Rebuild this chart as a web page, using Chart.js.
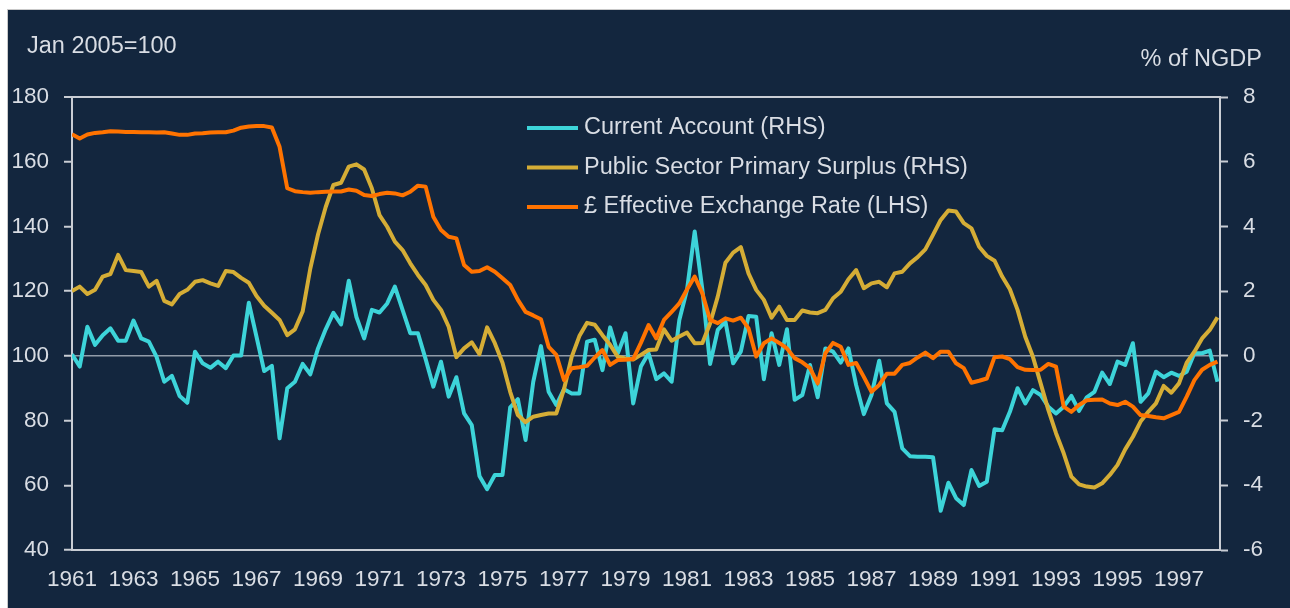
<!DOCTYPE html>
<html>
<head>
<meta charset="utf-8">
<script src="https://cdn.jsdelivr.net/npm/chart.js@4/dist/chart.umd.min.js"></script>
<style>
  html, body { margin: 0; padding: 0; background: #ffffff; }
  #wrap { position: absolute; left: 0; top: 0; width: 1290px; height: 608px; }
</style>
</head>
<body>
<div id="wrap"><canvas id="c" width="1290" height="608"></canvas></div>
<script>
// ---- data (quarterly, first point = 1961 Q1) ----
const firstYear = 1961;
const yearTicks = [1961, 1963, 1965, 1967, 1969, 1971, 1973, 1975, 1977, 1979, 1981, 1983, 1985, 1987, 1989, 1991, 1993, 1995, 1997];
const leftTicks = [40, 60, 80, 100, 120, 140, 160, 180];
const rightTicks = [-6, -4, -2, 0, 2, 4, 6, 8];

const seriesNames = ["Current Account (RHS)", "Public Sector Primary Surplus (RHS)", "\u00A3 Effective Exchange Rate (LHS)"];

const currentAccount = [
  0.05, -0.33, 0.90, 0.34, 0.64, 0.85, 0.47, 0.47, 1.09, 0.54,
  0.44, -0.03, -0.80, -0.62, -1.24, -1.45, 0.13, -0.23, -0.37, -0.18,
  -0.38, 0.01, 0.01, 1.64, 0.59, -0.47, -0.31, -2.55, -1.00, -0.80,
  -0.25, -0.57, 0.23, 0.82, 1.33, 0.97, 2.32, 1.20, 0.54, 1.42,
  1.34, 1.62, 2.14, 1.42, 0.70, 0.70, -0.10, -0.95, -0.18, -1.26,
  -0.66, -1.78, -2.14, -3.71, -4.12, -3.68, -3.68, -1.59, -1.34, -2.60,
  -0.80, 0.30, -1.11, -1.52, -1.03, -1.16, -1.16, 0.44, 0.50, -0.44,
  0.88, 0.08, 0.70, -1.47, -0.33, 0.08, -0.72, -0.54, -0.80, 1.11,
  2.04, 3.84, 2.04, -0.25, 0.80, 1.06, -0.23, 0.13, 1.23, 1.21,
  -0.72, 0.70, -0.28, 0.82, -1.36, -1.21, -0.28, -1.28, 0.23, 0.13,
  -0.21, 0.23, -0.90, -1.80, -1.21, -0.15, -1.47, -1.73, -2.86, -3.10,
  -3.12, -3.12, -3.13, -4.79, -3.92, -4.40, -4.61, -3.53, -4.02, -3.89,
  -2.27, -2.30, -1.73, -1.00, -1.47, -1.06, -1.21, -1.57, -1.78, -1.57,
  -1.24, -1.70, -1.28, -1.11, -0.52, -0.87, -0.18, -0.28, 0.39, -1.42,
  -1.16, -0.49, -0.66, -0.52, -0.62, -0.49, 0.08, 0.08, 0.16, -0.80
];

const primarySurplus = [
  2.00, 2.14, 1.91, 2.04, 2.45, 2.53, 3.12, 2.65, 2.62, 2.59,
  2.14, 2.32, 1.70, 1.59, 1.91, 2.04, 2.29, 2.34, 2.24, 2.16,
  2.62, 2.59, 2.41, 2.26, 1.85, 1.55, 1.33, 1.11, 0.64, 0.82,
  1.37, 2.70, 3.75, 4.60, 5.28, 5.35, 5.85, 5.92, 5.76, 5.18,
  4.35, 3.99, 3.53, 3.27, 2.86, 2.50, 2.19, 1.73, 1.42, 0.90,
  -0.04, 0.23, 0.42, 0.05, 0.88, 0.39, -0.21, -1.11, -1.83, -2.05,
  -1.88, -1.83, -1.78, -1.78, -1.03, -0.03, 0.61, 1.02, 0.96, 0.64,
  0.34, -0.03, -0.08, -0.11, 0.03, 0.18, 0.20, 0.82, 0.47, 0.60,
  0.72, 0.39, 0.40, 1.00, 1.83, 2.88, 3.19, 3.36, 2.55, 2.04,
  1.73, 1.18, 1.52, 1.11, 1.11, 1.40, 1.34, 1.32, 1.42, 1.78,
  1.98, 2.37, 2.65, 2.09, 2.24, 2.29, 2.12, 2.55, 2.60, 2.86,
  3.05, 3.29, 3.74, 4.20, 4.49, 4.46, 4.10, 3.94, 3.37, 3.09,
  2.94, 2.45, 2.06, 1.42, 0.59, -0.03, -0.85, -1.67, -2.39, -3.01,
  -3.73, -3.97, -4.04, -4.07, -3.94, -3.68, -3.37, -2.89, -2.50, -2.03,
  -1.73, -1.47, -0.93, -1.14, -0.85, -0.21, 0.13, 0.54, 0.80, 1.19
];

const exchangeRate = [
  168.5, 167.2, 168.4, 168.9, 169.1, 169.4, 169.3, 169.2, 169.2, 169.1,
  169.1, 169.0, 169.1, 168.7, 168.3, 168.3, 168.7, 168.8, 169.0, 169.1,
  169.1, 169.6, 170.5, 170.9, 171.0, 171.0, 170.6, 164.6, 151.8, 150.9,
  150.6, 150.4, 150.6, 150.7, 150.8, 150.8, 151.4, 151.0, 149.7, 149.4,
  150.0, 150.4, 150.2, 149.6, 150.7, 152.6, 152.3, 143.0, 138.9, 136.8,
  136.3, 128.1, 126.0, 126.2, 127.4, 126.0, 124.0, 121.9, 117.3, 113.6,
  112.5, 111.3, 102.8, 100.3, 92.5, 96.2, 96.5, 96.9, 99.5, 101.8,
  97.2, 98.7, 98.8, 99.0, 104.0, 109.5, 105.4, 111.1, 113.6, 116.2,
  120.5, 124.5, 119.3, 111.1, 110.1, 111.6, 110.9, 111.8, 108.5, 99.8,
  103.9, 105.4, 104.0, 102.3, 99.3, 98.0, 96.2, 91.5, 100.8, 104.0,
  102.8, 97.2, 97.8, 93.5, 88.9, 91.0, 94.5, 94.5, 97.2, 97.8,
  99.5, 101.0, 99.3, 101.3, 101.3, 97.7, 96.2, 91.7, 92.3, 93.0,
  99.6, 99.8, 99.0, 96.5, 95.7, 95.6, 95.7, 97.5, 96.7, 84.3,
  82.7, 84.8, 86.3, 86.4, 86.5, 85.3, 84.8, 85.8, 84.3, 81.7,
  81.4, 81.0, 80.7, 81.7, 82.7, 87.4, 92.5, 95.7, 97.2, 98.2
];

// quarter positions on the year axis
const quarters = exchangeRate.map((_, i) => firstYear + i / 4);

// ---- styling ----
const NAVY = '#13263e';
const TEXT = '#d9dde4';
const AXIS = '#c9cdd4';
const ZERO = 'rgba(190,196,206,0.75)';
const CYAN = '#3dd4d9';
const GOLD = '#d5ad36';
const ORANGE = '#ff7300';
const FAMILY = "'Liberation Sans', Arial, Helvetica, sans-serif";

Chart.defaults.font.family = FAMILY;

const framePlugin = {
  id: 'frame',
  beforeDraw(chart) {
    const { ctx, width, height } = chart;
    ctx.save();
    ctx.fillStyle = '#ffffff';
    ctx.fillRect(0, 0, width, height);
    ctx.fillStyle = '#c9c9c9';
    ctx.fillRect(7, 9, width - 7, height - 9);
    ctx.fillStyle = NAVY;
    ctx.fillRect(8, 10, width - 8, height - 10);
    ctx.restore();
  }
};

const textPlugin = {
  id: 'texts',
  afterDraw(chart) {
    const { ctx } = chart;
    ctx.save();
    ctx.fillStyle = TEXT;
    ctx.font = '23.5px ' + FAMILY;
    ctx.textBaseline = 'middle';
    ctx.textAlign = 'left';
    ctx.fillText('Jan 2005=100', 27, 47);
    ctx.textAlign = 'right';
    ctx.fillText('% of NGDP', 1262, 60);
    // legend
    ctx.textAlign = 'left';
    chart.data.datasets.forEach((ds, i) => {
      const y = 128 + i * 39.5;
      ctx.strokeStyle = ds.borderColor;
      ctx.lineWidth = 4;
      ctx.beginPath();
      ctx.moveTo(527, y);
      ctx.lineTo(578, y);
      ctx.stroke();
      ctx.fillStyle = TEXT;
      ctx.fillText(ds.label, 584, y);
    });
    ctx.restore();
  }
};

const tickFont = { family: FAMILY, size: 22.5 };

new Chart(document.getElementById('c'), {
  type: 'line',
  data: {
    labels: quarters,
    datasets: [
      { label: seriesNames[0], data: currentAccount, yAxisID: 'yR', borderColor: CYAN, backgroundColor: CYAN, order: 3 },
      { label: seriesNames[1], data: primarySurplus, yAxisID: 'yR', borderColor: GOLD, backgroundColor: GOLD, order: 2 },
      { label: seriesNames[2], data: exchangeRate, yAxisID: 'yL', borderColor: ORANGE, backgroundColor: ORANGE, order: 1 }
    ].map(d => Object.assign(d, {
      borderWidth: 4, pointRadius: 0, tension: 0, fill: false,
      borderJoinStyle: 'round', borderCapStyle: 'butt'
    }))
  },
  options: {
    responsive: false,
    animation: false,
    devicePixelRatio: 1,
    layout: { padding: { top: 97, left: 0, right: 0, bottom: 0 } },
    plugins: { legend: { display: false }, tooltip: { enabled: false }, title: { display: false } },
    scales: {
      x: {
        type: 'linear',
        position: 'bottom',
        min: firstYear,
        max: 1998.333,
        afterBuildTicks: axis => { axis.ticks = yearTicks.map(v => ({ value: v })); },
        afterFit: s => { s.height = 58; },
        ticks: { font: tickFont, color: TEXT, padding: 16, maxRotation: 0, autoSkip: false, callback: v => String(v) },
        grid: { display: false, drawTicks: false },
        border: { display: true, color: AXIS, width: 2 }
      },
      yL: {
        type: 'linear',
        position: 'left',
        min: 40,
        max: 180,
        afterBuildTicks: axis => { axis.ticks = leftTicks.map(v => ({ value: v })); },
        afterFit: s => { s.width = 72; },
        ticks: { font: tickFont, color: TEXT, padding: 15, callback: v => String(v) },
        grid: {
          display: true,
          drawOnChartArea: true,
          drawTicks: true,
          tickLength: 8,
          tickColor: AXIS,
          tickWidth: 2,
          color: c => c.tick && c.tick.value === 180 ? AXIS : (c.tick && c.tick.value === 100 ? ZERO : 'rgba(0,0,0,0)'),
          lineWidth: c => c.tick && c.tick.value === 180 ? 2 : 1.5
        },
        border: { display: true, color: AXIS, width: 2 }
      },
      yR: {
        type: 'linear',
        position: 'right',
        min: -6,
        max: 8,
        afterBuildTicks: axis => { axis.ticks = rightTicks.map(v => ({ value: v })); },
        afterFit: s => { s.width = 70; },
        ticks: { font: tickFont, color: TEXT, padding: 15, callback: v => String(v) },
        grid: { display: true, drawOnChartArea: false, drawTicks: true, tickLength: 8, tickColor: AXIS, tickWidth: 2 },
        border: { display: true, color: AXIS, width: 2 }
      }
    }
  },
  plugins: [framePlugin, textPlugin]
});
</script>
</body>
</html>
